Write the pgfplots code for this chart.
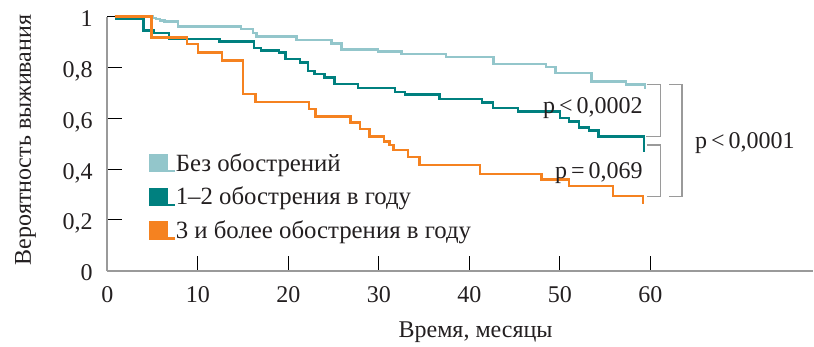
\documentclass[border=0pt]{standalone}
\usepackage{fontspec}
\setmainfont{Liberation Serif}
\usepackage{pgfplots}
\pgfplotsset{compat=1.18}
\definecolor{cLB}{HTML}{93C6CB}
\definecolor{cTL}{HTML}{00807F}
\definecolor{cOR}{HTML}{F58220}
\definecolor{cTX}{HTML}{231F20}
\definecolor{cAX}{HTML}{9A9A9A}
\newcommand{\fs}{\fontsize{12bp}{14bp}\selectfont}
\newcommand{\fl}{\fontsize{12.4bp}{14bp}\selectfont}
\begin{document}
\begin{tikzpicture}
\path[use as bounding box] (-53.65bp,-38.15bp) rectangle (353.35bp,135.35bp);
\begin{axis}[
  at={(0,0)}, anchor=south west,
  scale only axis, width=352.95bp, height=127bp,
  xmin=0, xmax=78, ymin=0, ymax=1,
  clip=false,
  axis x line=bottom, axis y line=left,
  axis line style={-, draw=cAX, line width=0.8bp},
  tick style={draw=black, line width=0.5bp},
  major tick length=7.5bp, tick align=inside,
  xtick={0,10,...,60}, ytick={0,0.2,0.4,0.6,0.8,1},
  /pgf/number format/assume math mode=true,
  /pgf/number format/use comma,
  ticklabel style={font=\fs, text=cTX},
  xticklabel style={anchor=base, yshift=-15.8bp},
  yticklabel style={anchor=base east, yshift=-5bp, xshift=-3.8bp},
  legend cell align=left,
  legend style={draw=none, fill=none, at={(axis cs:4.64,0.463)}, anchor=north west,
    inner sep=0pt, outer sep=0pt, row sep=4.85bp,
    font=\fl, text=cTX,
    nodes={inner sep=0pt, outer sep=0pt, text height=9bp, text depth=3bp},
    cells={anchor=base west}},
  legend image code/.code={\fill[#1] (0bp,0bp) rectangle (8bp,8bp); \path (0bp,0bp) -- (12bp,0bp);},
]
\addplot[const plot mark left, cLB, line width=1.25bp] coordinates {
(0.8,1.0) (5.0,0.995) (5.4,0.99) (5.8,0.985) (6.3,0.981) (7.8,0.962) (14.8,0.951) (16.1,0.936) (16.5,0.922) (20.9,0.908) (24.8,0.894) (25.9,0.870) (29.9,0.863) (32.5,0.854) (37.4,0.841) (42.7,0.813) (48.5,0.802) (49.5,0.778) (53.5,0.745) (57.3,0.733) (59.4,0.733) (59.4,0.717)
};
\addlegendentry{Без обострений}
\addplot[const plot mark left, cTL, line width=1.25bp] coordinates {
(0.8,0.993) (4.0,0.945) (5.1,0.936) (6.8,0.913) (12.4,0.903) (16.2,0.877) (17.0,0.867) (19.0,0.859) (19.7,0.834) (21.3,0.820) (22.2,0.787) (22.9,0.774) (24.0,0.761) (25.1,0.735) (27.7,0.719) (31.8,0.703) (32.9,0.693) (36.7,0.676) (41.4,0.662) (42.6,0.640) (45.4,0.627) (50.0,0.601) (51.0,0.587) (52.1,0.564) (53.2,0.551) (54.3,0.528) (59.3,0.528) (59.3,0.469)
};
\addlegendentry{1–2 обострения в году}
\addplot[const plot mark left, cOR, line width=1.25bp] coordinates {
(0.8,1.0) (4.9,0.918) (8.8,0.892) (10.0,0.859) (12.7,0.827) (15.0,0.696) (16.4,0.665) (22.3,0.636) (23.0,0.607) (26.9,0.583) (27.9,0.557) (29.0,0.528) (30.6,0.508) (31.2,0.495) (31.6,0.476) (33.2,0.447) (34.5,0.417) (41.2,0.381) (48.0,0.360) (51.0,0.334) (55.9,0.294) (59.2,0.294) (59.2,0.263)
};
\addlegendentry{3 и более обострения в году}
% brackets
\draw[cAX, line width=0.6bp] (axis cs:59.6,0.734) -- (axis cs:61.15,0.734) -- (axis cs:61.15,0.528) -- (axis cs:59.5,0.528);
\draw[cAX, line width=0.6bp] (axis cs:59.6,0.495) -- (axis cs:61.15,0.495) -- (axis cs:61.15,0.291) -- (axis cs:59.6,0.291);
\draw[cAX, line width=0.6bp] (axis cs:62.1,0.734) -- (axis cs:63.5,0.734) -- (axis cs:63.5,0.291) -- (axis cs:62.1,0.291);
\node[font=\fs, text=cTX, anchor=east, inner sep=0pt] at (axis cs:59.2,0.639) {p\,<\,0,0002};
\node[font=\fs, text=cTX, anchor=east, inner sep=0pt] at (axis cs:59.2,0.383) {p\,=\,0,069};
\node[font=\fs, text=cTX, anchor=west, inner sep=0pt] at (axis cs:64.9,0.502) {p\,<\,0,0001};
\node[font=\fs, text=cTX, anchor=base] at (axis cs:40.7,0) [yshift=-33.3bp] {Время, месяцы};
\node[font=\fs, text=cTX, anchor=base, rotate=90] at (axis cs:0,0.515) [yshift=38.15bp] {Вероятность выживания};
\end{axis}
\end{tikzpicture}
\end{document}
